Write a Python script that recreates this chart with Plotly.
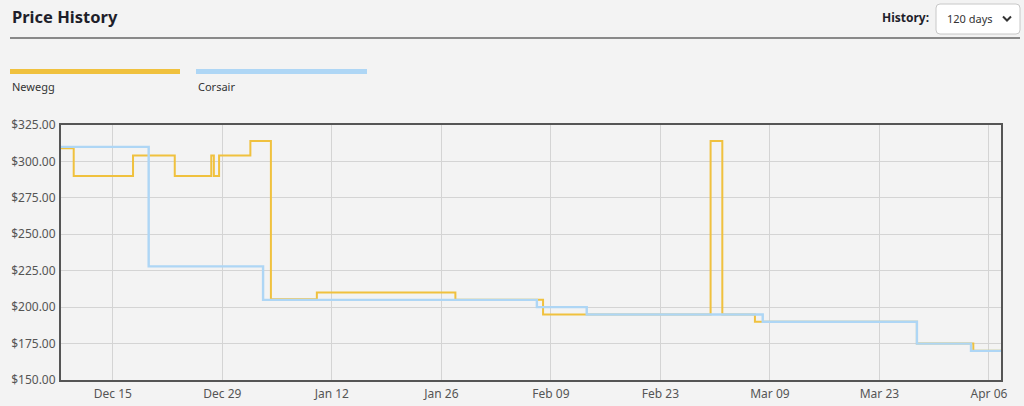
import plotly.graph_objects as go

# ---- data ----
newegg_dates = ["2024-12-08 08:00", "2024-12-10 00:00", "2024-12-17 14:00", "2024-12-22 22:00",
                "2024-12-27 14:00", "2024-12-27 22:00", "2024-12-28 14:00", "2025-01-01 14:00",
                "2025-01-04 05:00", "2025-01-10 02:00", "2025-01-27 19:00", "2025-02-08 00:00",
                "2025-03-01 10:00", "2025-03-02 22:00", "2025-03-07 02:00", "2025-03-27 19:00",
                "2025-04-04 00:00", "2025-04-08 00:00"]
newegg_prices = [308.99, 289.99, 303.99, 289.99, 303.99, 289.99, 303.99, 313.99,
                 205.49, 209.99, 204.99, 194.99, 313.99, 194.99, 189.99, 174.99,
                 169.99, 169.99]

corsair_dates = ["2024-12-08 08:00", "2024-12-19 14:00", "2025-01-03 05:00", "2025-02-07 05:00",
                 "2025-02-13 14:00", "2025-03-08 02:00", "2025-03-27 19:00", "2025-04-03 17:00",
                 "2025-04-08 00:00"]
corsair_prices = [309.99, 227.99, 204.99, 199.99, 194.99, 189.99, 174.99, 169.99, 169.99]

series_names = ["Newegg", "Corsair"]
series_colors = ["#f0c13e", "#aed6f5"]
x_range = ["2024-12-08 09:00", "2025-04-07 13:00"]
y_range = [150, 325]

# ---- layout geometry (pixels) ----
W, H = 1024, 406
L, R, T, B = 61, 1001, 125, 380


def px(x):
    return (x - L) / (R - L)


def py(y):
    return (B - y) / (B - T)


FONT = "Noto Sans, Segoe UI, sans-serif"
BG = "#f3f3f3"

fig = go.Figure()
fig.add_trace(go.Scatter(x=newegg_dates, y=newegg_prices, name=series_names[0], mode="lines",
                         line=dict(color=series_colors[0], width=2, shape="hv"), hoverinfo="skip"))
fig.add_trace(go.Scatter(x=corsair_dates, y=corsair_prices, name=series_names[1], mode="lines",
                         line=dict(color=series_colors[1], width=2.4, shape="hv"), hoverinfo="skip"))

shapes = []
annotations = []

# header title + rule
annotations.append(dict(text="<b>Price History</b>", x=px(10), y=py(17), xref="paper", yref="paper",
                        xanchor="left", yanchor="middle", showarrow=False,
                        font=dict(family=FONT, size=16.5, color="#1e1e2a")))
shapes.append(dict(type="line", xref="paper", yref="paper", x0=px(10), x1=px(1020), y0=py(38), y1=py(38),
                   line=dict(color="#666666", width=1.5)))

# history dropdown
annotations.append(dict(text="<b>History:</b>", x=px(931), y=py(18), xref="paper", yref="paper",
                        xanchor="right", yanchor="middle", showarrow=False,
                        font=dict(family=FONT, size=12, color="#1e1e2a")))
x0, x1, y0, y1, r = 936, 1020, 4, 34, 4
path = (f"M {px(x0 + r)},{py(y0)} L {px(x1 - r)},{py(y0)} Q {px(x1)},{py(y0)} {px(x1)},{py(y0 + r)} "
        f"L {px(x1)},{py(y1 - r)} Q {px(x1)},{py(y1)} {px(x1 - r)},{py(y1)} "
        f"L {px(x0 + r)},{py(y1)} Q {px(x0)},{py(y1)} {px(x0)},{py(y1 - r)} "
        f"L {px(x0)},{py(y0 + r)} Q {px(x0)},{py(y0)} {px(x0 + r)},{py(y0)} Z")
shapes.append(dict(type="path", xref="paper", yref="paper", path=path,
                   fillcolor="#ffffff", line=dict(color="#c8c8c8", width=1)))
annotations.append(dict(text="120 days", x=px(945), y=py(19), xref="paper", yref="paper",
                        xanchor="left", yanchor="middle", showarrow=False,
                        font=dict(family=FONT, size=11, color="#333333")))
shapes.append(dict(type="path", xref="paper", yref="paper",
                   path=f"M {px(1003)},{py(16.5)} L {px(1007)},{py(20.5)} L {px(1011)},{py(16.5)}",
                   line=dict(color="#333333", width=2)))

# custom legend
legend_pos = [(10, 180), (196, 367)]
for name, color, (lx0, lx1) in zip(series_names, series_colors, legend_pos):
    shapes.append(dict(type="rect", xref="paper", yref="paper", x0=px(lx0), x1=px(lx1),
                       y0=py(74), y1=py(69), fillcolor=color, line=dict(width=0)))
    annotations.append(dict(text=name, x=px(lx0), y=py(86), xref="paper", yref="paper",
                            xanchor="left", yanchor="middle", showarrow=False,
                            font=dict(family=FONT, size=11, color="#333333")))

fig.update_layout(
    width=W, height=H,
    margin=dict(l=L, r=W - R, t=T, b=H - B, pad=0, autoexpand=False),
    paper_bgcolor=BG, plot_bgcolor=BG,
    showlegend=False,
    shapes=shapes, annotations=annotations,
    font=dict(family=FONT, size=11, color="#555555"),
)
fig.update_xaxes(type="date", range=x_range, tick0="2024-12-15", dtick=14 * 86400000,
                 tickformat="%b %d", showgrid=True, gridcolor="#d4d4d4", gridwidth=1,
                 showline=True, linecolor="#555555", linewidth=2, mirror=True,
                 ticks="outside", ticklen=2, tickcolor=BG, zeroline=False, automargin=False,
                 tickfont=dict(family=FONT, size=12, color="#555555"))
fig.update_yaxes(range=y_range, dtick=25, tick0=150, tickprefix="$", tickformat=".2f",
                 showgrid=True, gridcolor="#d4d4d4", gridwidth=1,
                 showline=True, linecolor="#555555", linewidth=2, mirror=True,
                 ticks="outside", ticklen=1, tickcolor=BG, zeroline=False, automargin=False,
                 tickfont=dict(family=FONT, size=12, color="#555555"))

fig.write_html("out.html", config={"displayModeBar": False},
               post_script="document.body.style.margin='0';document.body.style.background='#f3f3f3';"
                           "document.documentElement.style.overflow='hidden';")
